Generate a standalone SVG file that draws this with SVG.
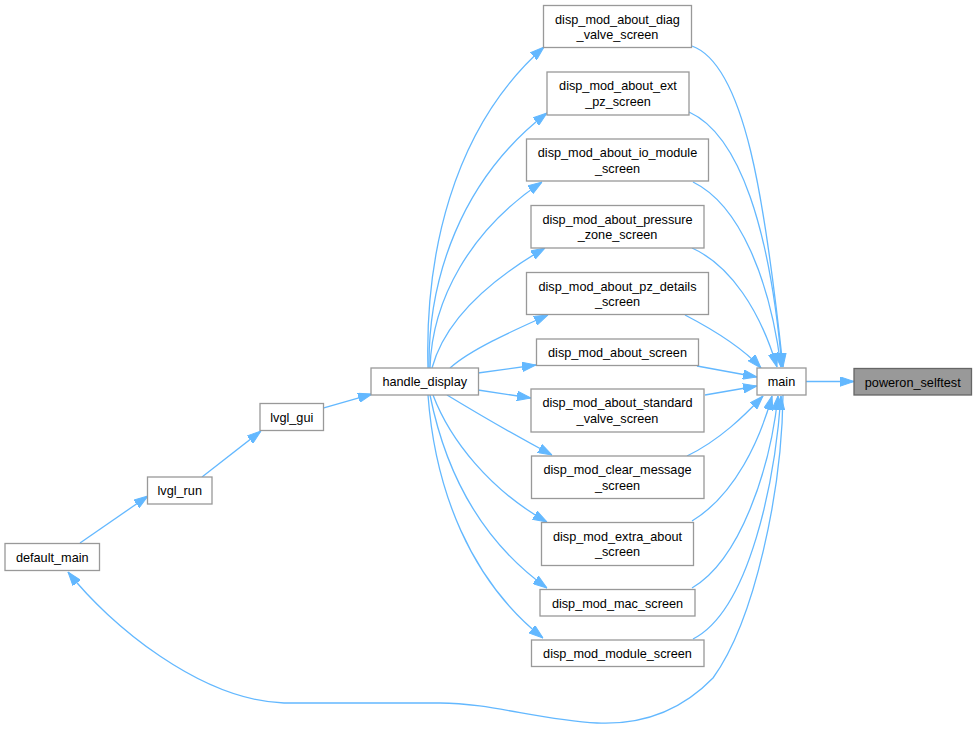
<svg xmlns="http://www.w3.org/2000/svg" width="978" height="729" viewBox="0 0 978 729">
<style>
.n rect{fill:#ffffff;stroke:#999999;stroke-width:1.3}
.n.hl rect{fill:#999999;stroke:#666666}
.n text{font-family:"Liberation Sans",Arial,sans-serif;font-size:12.7px;fill:#000000;text-anchor:middle}
#edges path{fill:none;stroke:#63b8ff;stroke-width:1.3;marker-end:url(#arr)}
</style>
<defs>
<marker id="arr" markerUnits="userSpaceOnUse" markerWidth="14" markerHeight="10" refX="14" refY="5" orient="auto">
<path d="M0,0.3 L14,5 L0,9.7 Z" fill="#63b8ff" stroke="#63b8ff" stroke-width="1"/>
</marker>
</defs>
<rect width="978" height="729" fill="#ffffff"/>
<g id="edges">
<path d="M428,368 C425,260 450,130 544,47"/>
<path d="M429,368 C428,280 460,180 547,113"/>
<path d="M430,368 C432,300 470,230 542,182"/>
<path d="M432,368 C445,320 490,280 545,248"/>
<path d="M450,368 C470,350 510,332 548,315"/>
<path d="M478,373 L536,365"/>
<path d="M478,390 L531,398"/>
<path d="M447,395 C480,415 520,438 552,455"/>
<path d="M433,395 C450,440 490,490 547,522"/>
<path d="M430,395 C445,470 480,540 547,588"/>
<path d="M428,395 C435,490 470,580 543,638"/>
<path d="M692,46 C745,65 765,200 783,367"/>
<path d="M689,112 C740,135 770,230 782,367"/>
<path d="M693,182 C740,205 770,280 781,367"/>
<path d="M692,248 C730,265 760,310 777,367"/>
<path d="M685,315 C710,328 740,345 761,368"/>
<path d="M697,366 L757,377"/>
<path d="M705,395 L757,386"/>
<path d="M687,456 C720,440 745,415 763,396"/>
<path d="M692,521 C735,495 760,440 772,396"/>
<path d="M692,588 C740,560 770,470 778,396"/>
<path d="M693,639 C750,610 775,480 781,396"/>
<path d="M783,395 C782,490 755,620 713,678 C680,712 640,725 597,723 C540,720 490,703 440,703 L284,703 C200,700 110,625 68,572"/>
<path d="M806,381.5 L854,381.5"/>
<path d="M80,543 L148,496"/>
<path d="M202,477 L261,431"/>
<path d="M323,408 L372,394"/>
</g>
<g id="n_diag" class="n"><rect x="543.5" y="5.5" width="148" height="42"/><text x="617.5" y="23.5">disp_mod_about_diag</text><text x="617.5" y="39">_valve_screen</text></g>
<g id="n_extpz" class="n"><rect x="547" y="72" width="142" height="43"/><text x="618" y="90">disp_mod_about_ext</text><text x="618" y="105.5">_pz_screen</text></g>
<g id="n_io" class="n"><rect x="526.5" y="139" width="182" height="42"/><text x="617.5" y="157">disp_mod_about_io_module</text><text x="617.5" y="172.5">_screen</text></g>
<g id="n_press" class="n"><rect x="531" y="205.5" width="173" height="42.5"/><text x="617.5" y="223.5">disp_mod_about_pressure</text><text x="617.5" y="239">_zone_screen</text></g>
<g id="n_pzdet" class="n"><rect x="526.5" y="272.5" width="182" height="42"/><text x="617.5" y="290.5">disp_mod_about_pz_details</text><text x="617.5" y="306">_screen</text></g>
<g id="n_about" class="n"><rect x="536.5" y="339" width="162" height="26.5"/><text x="617.5" y="357">disp_mod_about_screen</text></g>
<g id="n_std" class="n"><rect x="531" y="389" width="173" height="43"/><text x="617.5" y="407">disp_mod_about_standard</text><text x="617.5" y="422.5">_valve_screen</text></g>
<g id="n_clear" class="n"><rect x="531.5" y="456" width="172.5" height="42.5"/><text x="617.5" y="474">disp_mod_clear_message</text><text x="617.5" y="489.5">_screen</text></g>
<g id="n_extra" class="n"><rect x="541.5" y="522.5" width="152" height="43"/><text x="617.5" y="540.5">disp_mod_extra_about</text><text x="617.5" y="556">_screen</text></g>
<g id="n_mac" class="n"><rect x="540" y="589.5" width="155" height="26.5"/><text x="617.5" y="607.5">disp_mod_mac_screen</text></g>
<g id="n_module" class="n"><rect x="531.5" y="640" width="172.5" height="26.5"/><text x="617.5" y="658">disp_mod_module_screen</text></g>
<g id="n_main" class="n"><rect x="757" y="368" width="49" height="27"/><text x="781.5" y="386">main</text></g>
<g id="n_poweron" class="n hl"><rect x="854" y="368.5" width="117.5" height="26.5"/><text x="912.75" y="386.5">poweron_selftest</text></g>
<g id="n_handle" class="n"><rect x="371" y="368" width="107.5" height="27"/><text x="424.75" y="386">handle_display</text></g>
<g id="n_gui" class="n"><rect x="260" y="403.5" width="63.5" height="27"/><text x="291.75" y="421.5">lvgl_gui</text></g>
<g id="n_run" class="n"><rect x="147.5" y="477" width="64.5" height="27"/><text x="179.75" y="495">lvgl_run</text></g>
<g id="n_default" class="n"><rect x="5" y="543.5" width="94.5" height="27"/><text x="52.25" y="561.5">default_main</text></g>
</svg>
